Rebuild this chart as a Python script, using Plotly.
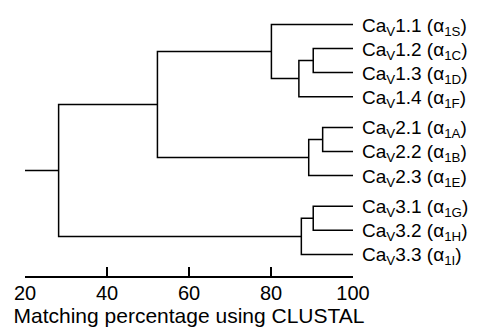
import plotly.graph_objects as go

# Leaf labels (top to bottom) and their group (subfamily)
leaf_labels = [
    "Ca<sub>V</sub>1.1 (α<sub>1S</sub>)",
    "Ca<sub>V</sub>1.2 (α<sub>1C</sub>)",
    "Ca<sub>V</sub>1.3 (α<sub>1D</sub>)",
    "Ca<sub>V</sub>1.4 (α<sub>1F</sub>)",
    "Ca<sub>V</sub>2.1 (α<sub>1A</sub>)",
    "Ca<sub>V</sub>2.2 (α<sub>1B</sub>)",
    "Ca<sub>V</sub>2.3 (α<sub>1E</sub>)",
    "Ca<sub>V</sub>3.1 (α<sub>1G</sub>)",
    "Ca<sub>V</sub>3.2 (α<sub>1H</sub>)",
    "Ca<sub>V</sub>3.3 (α<sub>1I</sub>)",
]
leaf_groups = [0, 0, 0, 0, 1, 1, 1, 2, 2, 2]

# Merges: (child_a, child_b, matching percentage). Leaves are "L<i>", merges "M<j>"
merge_a = ["L1", "M0", "L0", "L4", "M3", "M2", "L7", "M6", "M5"]
merge_b = ["L2", "L3", "M1", "L5", "L6", "M4", "L8", "L9", "M7"]
merge_pct = [90.3, 86.8, 80.1, 92.6, 89.2, 52.3, 90.3, 87.4, 28.2]

root_start = 20
tick_values = [20, 40, 60, 80, 100]
leaf_pct = 100

GROUP_GAP = 0.28
leaf_y = [i + GROUP_GAP * g for i, g in enumerate(leaf_groups)]

pos = {}
for i, y in enumerate(leaf_y):
    pos[f"L{i}"] = (leaf_pct, y)

xs, ys = [], []
for j, (a, b, p) in enumerate(zip(merge_a, merge_b, merge_pct)):
    xa, ya = pos[a]
    xb, yb = pos[b]
    xs += [xa, p, p, xb, None]
    ys += [ya, ya, yb, yb, None]
    pos[f"M{j}"] = (p, (ya + yb) / 2)

# root stub
rx, ry = pos[f"M{len(merge_pct) - 1}"]
xs += [rx, root_start, None]
ys += [ry, ry, None]

FONT = "Liberation Sans, Arial, Helvetica, sans-serif"

fig = go.Figure()
fig.add_trace(go.Scatter(
    x=xs, y=ys, mode="lines",
    line=dict(color="black", width=1.5),
    hoverinfo="skip", showlegend=False, cliponaxis=False,
))

for lab, y in zip(leaf_labels, leaf_y):
    fig.add_annotation(
        x=leaf_pct, y=y, xref="x", yref="y", text=lab, showarrow=False,
        xanchor="left", yanchor="middle", xshift=7, yshift=-2,
        font=dict(family=FONT, size=19, color="black"),
    )

# the page body adds an 8px offset; figure is sized to fit inside the window
W, H = 485, 325
plot_top, plot_bottom = 0, 268
unit, leaf0_px = 24.05, 16.5
y_top = (plot_top - leaf0_px) / unit
y_bot = (plot_bottom - leaf0_px) / unit

fig.update_layout(
    width=W, height=H,
    margin=dict(l=17, r=140, t=plot_top, b=H - plot_bottom, pad=0),
    paper_bgcolor="white", plot_bgcolor="white",
    font=dict(family=FONT, color="black"),
    xaxis=dict(
        range=[20, 100], tickvals=tick_values, ticks="inside", ticklen=9,
        tickwidth=1.5, tickcolor="black", showline=True, linewidth=1.5,
        linecolor="black", showgrid=False, zeroline=False,
        tickfont=dict(size=20, family=FONT, color="black"),
        ticklabelstandoff=-2,
        title=dict(text="Matching percentage using CLUSTAL",
                   font=dict(size=21, family=FONT, color="black"), standoff=2),
    ),
    yaxis=dict(range=[y_bot, y_top], visible=False, showgrid=False, zeroline=False),
)

fig.write_html("out.html")
